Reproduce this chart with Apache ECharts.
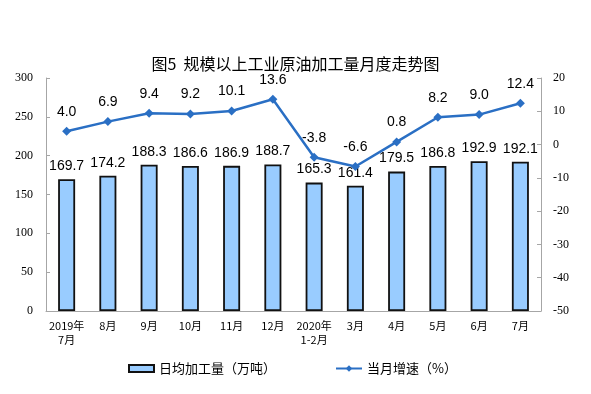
<!DOCTYPE html>
<html><head><meta charset="utf-8">
<script src="https://cdn.jsdelivr.net/npm/echarts@6/dist/echarts.min.js"></script>
<style>html,body{margin:0;padding:0;background:#fff}#c{width:591px;height:394px}</style>
</head><body><div id="c"></div>
<script>
var categories = ['2019年\n7月','8月','9月','10月','11月','12月','2020年\n1-2月','3月','4月','5月','6月','7月'];
var dailyOutput = [169.7,174.2,188.3,186.6,186.9,188.7,165.3,161.4,179.5,186.8,192.9,192.1];
var growth = [4.0,6.9,9.4,9.2,10.1,13.6,-3.8,-6.6,0.8,8.2,9.0,12.4];
var leftTicks = [0,50,100,150,200,250,300];
var rightTicks = [-50,-40,-30,-20,-10,0,10,20];

var chart = echarts.init(document.getElementById('c'), null, {renderer:'canvas'});
var axisGray = '#a6a6a6';
var serif = '"Liberation Serif","DejaVu Serif",serif';
chart.setOption({
  animation:false,
  title:{text:'图5  规模以上工业原油加工量月度走势图',left:'center',top:51,
    textStyle:{fontSize:16,fontWeight:'normal',color:'#000',fontFamily:'"Noto Sans CJK SC",sans-serif'}},
  legend:[{
    data:[{name:'日均加工量（万吨）',icon:'rect'}],left:123,top:357,itemWidth:25,itemHeight:7,itemGap:4,
    textStyle:{fontSize:13,color:'#000',fontFamily:'"Noto Sans CJK SC",sans-serif'}
  },{
    data:[{name:'当月增速（%）'}],left:330,top:357,itemWidth:26,itemHeight:8,itemGap:4,
    textStyle:{fontSize:13,color:'#000',fontFamily:'"Noto Sans CJK SC",sans-serif'}
  }],
  grid:{left:46,right:50,top:78,bottom:83},
  xAxis:{type:'category',data:categories,
    axisLine:{lineStyle:{color:axisGray}},
    axisTick:{inside:true,length:4,lineStyle:{color:axisGray}},
    axisLabel:{fontSize:11,color:'#000',margin:8,lineHeight:14,fontFamily:'"Noto Sans CJK SC",sans-serif',interval:0}},
  yAxis:[{type:'value',min:0,max:300,interval:50,
    axisLine:{show:true,lineStyle:{color:axisGray}},
    axisTick:{show:true,inside:true,length:4,lineStyle:{color:axisGray}},
    splitLine:{show:false},
    axisLabel:{fontSize:12,color:'#000',margin:13,fontFamily:serif}},
   {type:'value',min:-50,max:20,interval:10,
    axisLine:{show:true,lineStyle:{color:axisGray}},
    axisTick:{show:true,inside:true,length:4,lineStyle:{color:axisGray}},
    splitLine:{show:false},
    axisLabel:{fontSize:12,color:'#000',margin:12,fontFamily:serif}}],
  series:[{
    name:'日均加工量（万吨）',type:'bar',data:dailyOutput,barWidth:17,
    itemStyle:{color:'#99ccff',borderColor:'#111',borderWidth:1.8},
    label:{show:true,position:'top',distance:6,fontSize:14,color:'#000',fontFamily:'"Liberation Sans",Arial,sans-serif',
      formatter:function(p){return p.value.toFixed(1);}}
  },{
    name:'当月增速（%）',type:'line',yAxisIndex:1,data:growth,
    symbol:'diamond',symbolSize:9,
    lineStyle:{color:'#2a6fc4',width:2.5},itemStyle:{color:'#2a6fc4'},
    label:{show:true,position:'top',distance:8,fontSize:14,color:'#000',fontFamily:'"Liberation Sans",Arial,sans-serif',
      formatter:function(p){return p.value.toFixed(1);}}
  }]
});
</script></body></html>
